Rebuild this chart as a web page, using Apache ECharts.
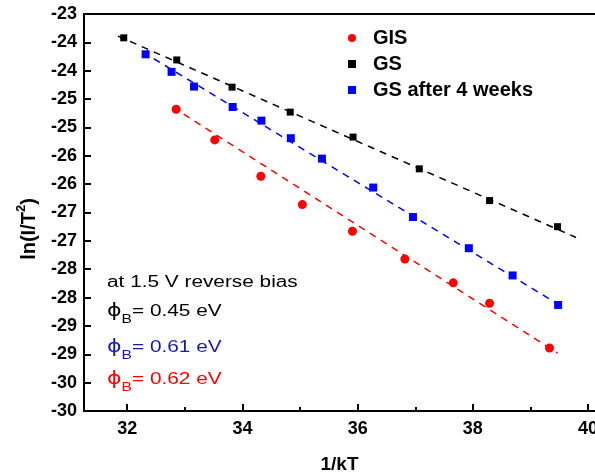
<!DOCTYPE html>
<html>
<head>
<meta charset="utf-8">
<script src="https://cdn.jsdelivr.net/npm/echarts@6/dist/echarts.min.js"></script>
<style>
  html, body { margin: 0; padding: 0; background: #fff; }
  #chart { width: 595px; height: 476px; }
</style>
</head>
<body>
<div id="chart"></div>
<script>
// data
var gisX = [32.85, 33.52, 34.32, 35.04, 35.91, 36.82, 37.66, 38.29, 39.33]
var gisY = [-24.68, -25.22, -25.86, -26.36, -26.83, -27.32, -27.74, -28.10, -28.89]
var gsX = [31.94, 32.86, 33.82, 34.83, 35.92, 37.07, 38.29, 39.47]
var gsY = [-23.42, -23.81, -24.29, -24.73, -25.17, -25.73, -26.29, -26.75]
var gs4X = [32.32, 32.77, 33.16, 33.83, 34.33, 34.84, 35.38, 36.27, 36.96, 37.93, 38.69, 39.48]
var gs4Y = [-23.71, -24.02, -24.28, -24.64, -24.88, -25.19, -25.55, -26.06, -26.58, -27.13, -27.61, -28.13]

// dashed fit lines (end points)
var gisFitX = [32.79, 39.47]
var gisFitY = [-24.64, -28.98]
var gsFitX = [31.84, 39.79]
var gsFitY = [-23.39, -26.94]
var gs4FitX = [32.27, 39.55]
var gs4FitY = [-23.67, -28.16]

var xMajor = [32, 34, 36, 38, 40]
var xMinor = [33, 35, 37, 39]
var seriesNames = ['GIS', 'GS', 'GS after 4 weeks']

function pairs (xs, ys) {
    var out = []
    for (var i = 0; i < xs.length; i++) {
        out.push([xs[i], ys[i]])
    }
    return out
}

var FONT = 'Liberation Sans'
var X_MIN = 31.25
var X_MAX = 40.12
var chart = echarts.init(document.getElementById('chart'))

var annoRich = {
    phi: { fontSize: 17, fontFamily: 'DejaVu Sans', verticalAlign: 'middle' },
    sub: { fontSize: 12, verticalAlign: 'bottom', lineHeight: 12 },
    t: { fontSize: 16, verticalAlign: 'middle' }
}

function anno (y, str, color) {
    return {
        type: 'text',
        x: 107,
        y: y,
        scaleX: 1.3,
        style: {
            x: 0,
            y: 0,
            text: str,
            fill: color,
            fontFamily: FONT,
            fontSize: 16,
            lineHeight: 28,
            verticalAlign: 'middle',
            rich: annoRich
        }
    }
}

var option = {
    animation: false,
    backgroundColor: '#fff',
    grid: {
        left: 84,
        right: 0,
        top: 14,
        bottom: 65,
        outerBoundsMode: 'none'
    },
    legend: {
        orient: 'vertical',
        left: 343,
        top: 23,
        itemWidth: 8,
        itemHeight: 8,
        itemGap: 6,
        data: seriesNames,
        textStyle: {
            fontFamily: FONT,
            fontSize: 20,
            fontWeight: 'bold',
            color: '#000',
            lineHeight: 20,
            padding: [0, 0, 0, 12]
        }
    },
    xAxis: [
        {
            type: 'value',
            min: X_MIN,
            max: X_MAX,
            position: 'bottom',
            axisLine: { onZero: false, lineStyle: { color: '#000', width: 2 } },
            axisTick: {
                inside: true,
                length: 7,
                lineStyle: { width: 2, color: '#000' },
                customValues: xMajor
            },
            axisLabel: {
                customValues: xMajor,
                margin: 9,
                color: '#000',
                fontFamily: FONT,
                fontSize: 18,
                fontWeight: 'bold'
            },
            splitLine: { show: false },
            name: '1/kT',
            nameLocation: 'middle',
            nameGap: 44,
            nameTextStyle: {
                color: '#000',
                fontFamily: FONT,
                fontSize: 19,
                fontWeight: 'bold'
            }
        },
        {
            // minor ticks
            type: 'value',
            min: X_MIN,
            max: X_MAX,
            position: 'bottom',
            offset: 0,
            axisLine: { show: false },
            axisTick: {
                inside: true,
                length: 4,
                lineStyle: { width: 2, color: '#000' },
                customValues: xMinor
            },
            axisLabel: { show: false },
            splitLine: { show: false }
        },
        {
            // top frame
            type: 'value',
            min: X_MIN,
            max: X_MAX,
            position: 'top',
            axisLine: { lineStyle: { color: '#000', width: 2 } },
            axisTick: { show: false },
            axisLabel: { show: false },
            splitLine: { show: false }
        }
    ],
    yAxis: {
        type: 'value',
        min: -30,
        max: -23,
        interval: 0.5,
        axisLine: { onZero: false, lineStyle: { color: '#000', width: 2 } },
        axisTick: { inside: true, length: 7, lineStyle: { width: 2, color: '#000' } },
        axisLabel: {
            margin: 7,
            color: '#000',
            fontFamily: FONT,
            fontSize: 18,
            fontWeight: 'bold',
            formatter: function (v) {
                // labels are rounded to whole numbers like the original
                return (v < 0 ? '-' : '') + Math.round(Math.abs(v))
            }
        },
        splitLine: { show: false }
    },
    series: [
        {
            name: 'GIS',
            type: 'scatter',
            symbol: 'circle',
            symbolSize: 9,
            itemStyle: { color: '#ff0000', opacity: 1 },
            data: pairs(gisX, gisY),
            z: 3
        },
        {
            name: 'GS',
            type: 'scatter',
            symbol: 'rect',
            symbolSize: 7,
            itemStyle: { color: '#000', opacity: 1 },
            data: pairs(gsX, gsY),
            z: 3
        },
        {
            name: 'GS after 4 weeks',
            type: 'scatter',
            symbol: 'rect',
            symbolSize: 8,
            itemStyle: { color: '#0000ff', opacity: 1 },
            data: pairs(gs4X, gs4Y),
            z: 3
        },
        {
            name: 'GIS fit',
            type: 'line',
            symbol: 'none',
            lineStyle: { color: '#ff0000', width: 1.5, type: [7, 6] },
            data: pairs(gisFitX, gisFitY),
            z: 2
        },
        {
            name: 'GS fit',
            type: 'line',
            symbol: 'none',
            lineStyle: { color: '#000', width: 1.5, type: [7, 6] },
            data: pairs(gsFitX, gsFitY),
            z: 2
        },
        {
            name: 'GS4 fit',
            type: 'line',
            symbol: 'none',
            lineStyle: { color: '#0000ff', width: 1.5, type: [7, 6] },
            data: pairs(gs4FitX, gs4FitY),
            z: 2
        }
    ],
    graphic: [
        {
            type: 'text',
            x: 27,
            y: 229,
            rotation: Math.PI / 2,
            style: {
                text: '{t|ln(I/T}{s|2}{t|)}',
                fill: '#000',
                fontFamily: FONT,
                fontSize: 20,
                fontWeight: 'bold',
                align: 'center',
                verticalAlign: 'middle',
                lineHeight: 24,
                rich: {
                    t: { fontSize: 20, fontWeight: 'bold', verticalAlign: 'bottom' },
                    s: { fontSize: 13, fontWeight: 'bold', verticalAlign: 'top' }
                }
            }
        },
        {
            type: 'text',
            x: 107,
            y: 283,
            scaleX: 1.3,
            style: {
                x: 0,
                y: 0,
                text: 'at 1.5 V reverse bias',
                fill: '#000',
                fontFamily: FONT,
                fontSize: 16,
                verticalAlign: 'middle'
            }
        },
        anno(312, '{phi|ϕ}{sub|B}{t|= 0.45 eV}', '#000'),
        anno(348, '{phi|ϕ}{sub|B}{t|= 0.61 eV}', '#1a1aa8'),
        anno(380, '{phi|ϕ}{sub|B}{t|= 0.62 eV}', '#ff0000')
    ]
}

chart.setOption(option)
</script>
</body>
</html>
